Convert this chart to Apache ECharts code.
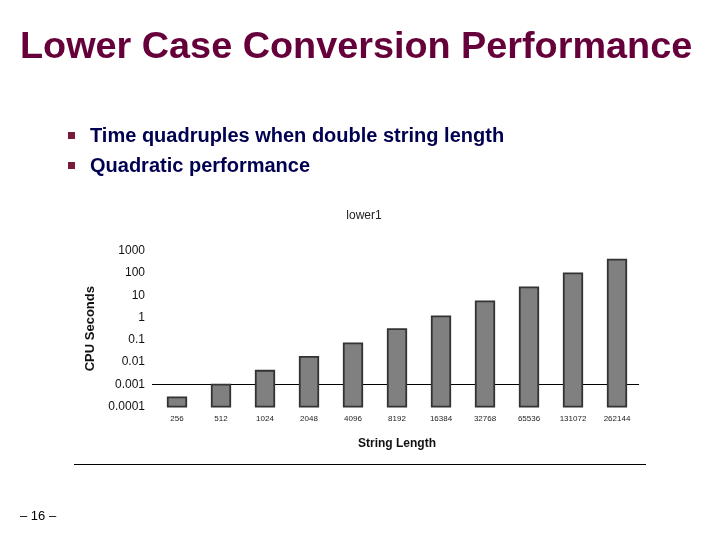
<!DOCTYPE html>
<html><head><meta charset="utf-8">
<script src="https://cdn.jsdelivr.net/npm/echarts@6/dist/echarts.min.js"></script>
<style>html,body{margin:0;padding:0;background:#fff}#c{width:720px;height:540px}</style>
</head><body><div id="c"></div>
<script>
var categories = ['256','512','1024','2048','4096','8192','16384','32768','65536','131072','262144'];
var cpuSeconds = [0.00026, 0.00098, 0.0041, 0.017, 0.069, 0.30, 1.13, 5.3, 22.5, 96, 390];
var yTickLabels = ['0.0001','0.001','0.01','0.1','1','10','100','1000'];
var slideTitle = 'Lower Case Conversion Performance';
var bullets = ['Time quadruples when double string length', 'Quadratic performance'];
var chartTitle = 'lower1';
var pageLabel = '– 16 –';
var yMin = 0.0001, yMax = 1000, crossAt = 0.001;

var chart = echarts.init(document.getElementById('c'), null, {renderer:'canvas'});
var FONT = 'Liberation Sans, Arial, sans-serif';
var graphics = [
  {type:'text', x:20, y:48, style:{text:slideTitle, font:'bold 37.8px ' + FONT, fill:'#66003a', verticalAlign:'middle', align:'left'}},
  {type:'text', x:20, y:516, style:{text:pageLabel, font:'13px ' + FONT, fill:'#000', verticalAlign:'middle', align:'left'}},
  {type:'line', shape:{x1:74, y1:464.5, x2:646, y2:464.5}, style:{stroke:'#000', lineWidth:1}}
];
bullets.forEach(function(b, i){
  var cy = 136 + i*30;
  graphics.push({type:'rect', shape:{x:68, y:cy-4, width:7, height:7}, style:{fill:'#7a1a3a'}});
  graphics.push({type:'text', x:90, y:cy, style:{text:b, font:'bold 20px ' + FONT, fill:'#000050', verticalAlign:'middle', align:'left'}});
});

chart.setOption({
  animation:false,
  backgroundColor:'#fff',
  title:{text:chartTitle, left:359, top:205, textAlign:'center', textStyle:{fontFamily:FONT, fontSize:12, fontWeight:'normal', color:'#222'}},
  graphic:graphics,
  grid:{left:155, right:81, top:250.6, bottom:133.3},
  xAxis:{type:'category', data:categories,
    axisLine:{show:false}, axisTick:{show:false},
    axisLabel:{fontFamily:FONT, fontSize:8, color:'#222', margin:8, interval:0},
    name:'String Length', nameLocation:'middle', nameGap:31,
    nameTextStyle:{fontFamily:FONT, fontSize:12, fontWeight:'bold', color:'#111'}},
  yAxis:{type:'log', logBase:10, min:yMin, max:yMax, interval:1,
    axisLine:{show:false}, axisTick:{show:false}, splitLine:{show:false},
    axisLabel:{fontFamily:FONT, fontSize:12, color:'#111', margin:10,
      formatter:function(v){ var k = Math.round(Math.log10(v)) + 4; return yTickLabels[k] || ''; }},
    name:'CPU Seconds', nameLocation:'middle', nameGap:53, nameRotate:90,
    nameTextStyle:{fontFamily:FONT, fontSize:13, fontWeight:'bold', color:'#111'}},
  series:[{
    type:'custom',
    data:cpuSeconds.map(function(v,i){ return [i, v]; }),
    encode:{x:0, y:1},
    renderItem:function(params, api){
      var top = api.coord([api.value(0), api.value(1)]);
      var base = api.coord([api.value(0), yMin]);
      var w = api.size([1,0])[0]*0.42;
      var children = [];
      if (params.dataIndex === 0) {
        var cs = params.coordSys;
        var cy = Math.round(api.coord([0, crossAt])[1]) + 0.5;
        children.push({type:'line', shape:{x1:cs.x - 3, y1:cy, x2:cs.x + cs.width, y2:cy},
          style:{stroke:'#000', lineWidth:1}});
      }
      children.push({type:'rect', shape:{x:top[0]-w/2, y:top[1], width:w, height:base[1]-top[1]},
        style:{fill:'#808080', stroke:'#333', lineWidth:1.8}});
      return {type:'group', children:children};
    }
  }]
});
</script></body></html>
